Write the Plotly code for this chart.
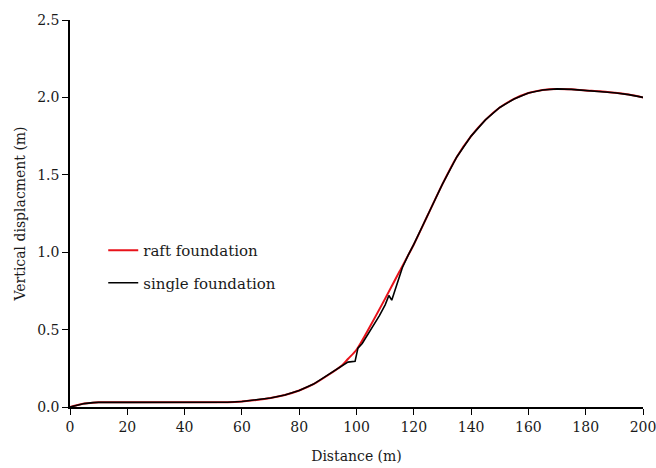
import plotly.graph_objects as go

# raft foundation (red)
raft_x = [0, 2, 5, 8, 10, 20, 30, 40, 50, 55, 60, 65, 70, 75, 80, 85, 90, 95, 97, 100,
          105, 110, 115, 120, 125, 130, 135, 140, 145, 150, 155, 160, 165, 170, 175,
          180, 185, 190, 195, 200]
raft_y = [0.0, 0.01, 0.022, 0.028, 0.03, 0.03, 0.03, 0.03, 0.03, 0.031, 0.036, 0.045,
          0.058, 0.078, 0.107, 0.148, 0.205, 0.27, 0.31, 0.37,
          0.53, 0.70, 0.875, 1.05, 1.245, 1.44, 1.615, 1.75, 1.855, 1.935, 1.99, 2.028,
          2.048, 2.055, 2.052, 2.045, 2.04, 2.03, 2.018, 2.0]

# single foundation (black)
single_x = [0, 2, 5, 8, 10, 20, 30, 40, 50, 55, 60, 65, 70, 75, 80, 85, 90, 95, 97,
            99.5, 100.5, 102, 104, 106, 108, 110, 111.3, 112.3, 114, 116, 118, 120,
            125, 130, 135, 140, 145, 150, 155, 160, 165, 170, 175, 180, 185, 190, 195, 200]
single_y = [0.0, 0.01, 0.022, 0.028, 0.03, 0.03, 0.03, 0.03, 0.03, 0.031, 0.036, 0.045,
            0.058, 0.078, 0.107, 0.148, 0.205, 0.265, 0.29,
            0.295, 0.38, 0.41, 0.47, 0.525, 0.59, 0.66, 0.72, 0.69, 0.78, 0.9, 0.98, 1.05,
            1.245, 1.44, 1.615, 1.75, 1.855, 1.935, 1.99, 2.028, 2.048, 2.055, 2.052, 2.045,
            2.04, 2.03, 2.018, 2.0]

FONT = "DejaVu Serif"
TXT = "#1a1a1a"
AX = 14

fig = go.Figure()
fig.add_trace(go.Scatter(x=raft_x, y=raft_y, mode="lines", name="raft foundation",
                         line=dict(color="#e8121a", width=2, shape="spline", smoothing=0.8),
                         legendgroup="a"))
fig.add_trace(go.Scatter(x=single_x, y=single_y, mode="lines", name="single foundation",
                         line=dict(color="#000000", width=1.6),
                         legendgroup="b"))

fig.update_layout(
    width=656, height=468,
    margin=dict(l=70, r=13, t=16, b=61),
    paper_bgcolor="white", plot_bgcolor="white",
    font=dict(family=FONT, size=AX, color=TXT),
    legend=dict(x=0.058, y=0.447, xanchor="left", yanchor="top",
                bgcolor="rgba(0,0,0,0)", tracegroupgap=10,
                font=dict(family=FONT, size=15, color=TXT),
                traceorder="grouped"),
    xaxis=dict(range=[0, 200], dtick=20, tick0=0, showline=True, linecolor="black",
               linewidth=1.5, ticks="outside", ticklen=6, tickcolor="black",
               showgrid=False, zeroline=False, ticklabeloverflow="allow",
               automargin=False,
               tickfont=dict(family=FONT, size=AX, color=TXT),
               title=dict(text="Distance (m)", standoff=18,
                          font=dict(family=FONT, size=AX, color=TXT))),
    yaxis=dict(range=[0, 2.5], dtick=0.5, tick0=0, tickformat=".1f", showline=True,
               linecolor="black", linewidth=1.5, ticks="outside", ticklen=6,
               tickcolor="black", showgrid=False, zeroline=False,
               tickfont=dict(family=FONT, size=AX, color=TXT),
               title=dict(text="Vertical displacment (m)", standoff=8,
                          font=dict(family=FONT, size=AX, color=TXT))),
)

fig.write_html("out.html")
